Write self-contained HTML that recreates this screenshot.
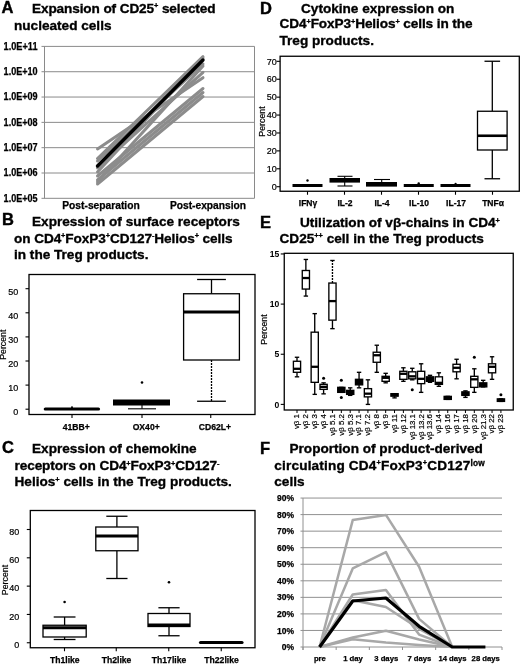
<!DOCTYPE html>
<html><head><meta charset="utf-8"><title>Figure</title>
<style>
html,body{margin:0;padding:0;background:#fff;}
svg{display:block;font-family:'Liberation Sans', sans-serif;}
</style></head>
<body>
<svg width="520" height="664" viewBox="0 0 520 664">
<rect width="520" height="664" fill="#fff"/>
<text x="1.50" y="12.50" font-size="16.5" font-weight="bold" text-anchor="start" fill="#000" stroke="#000" stroke-width="0.4">A</text>
<text x="32.00" y="12.60" font-size="13.6" font-weight="bold" text-anchor="start" fill="#000" stroke="#000" stroke-width="0.35" textLength="183.5">Expansion of CD25<tspan dy="-4.4" font-size="7.4" stroke-width="0.3">+</tspan><tspan dy="4.4"> selected</tspan></text>
<text x="14.00" y="29.50" font-size="13.6" font-weight="bold" text-anchor="start" fill="#000" stroke="#000" stroke-width="0.35">nucleated cells</text>
<line x1="41.50" y1="46.40" x2="254.50" y2="46.40" stroke="#8a8a8a" stroke-width="1" />
<text x="3.60" y="49.80" font-size="10" font-weight="bold" text-anchor="start" fill="#000" textLength="34" lengthAdjust="spacingAndGlyphs" stroke="#000" stroke-width="0.25">1.0E+11</text>
<line x1="41.50" y1="71.72" x2="254.50" y2="71.72" stroke="#8a8a8a" stroke-width="1" />
<text x="3.60" y="75.12" font-size="10" font-weight="bold" text-anchor="start" fill="#000" textLength="34" lengthAdjust="spacingAndGlyphs" stroke="#000" stroke-width="0.25">1.0E+10</text>
<line x1="41.50" y1="97.04" x2="254.50" y2="97.04" stroke="#8a8a8a" stroke-width="1" />
<text x="3.60" y="100.44" font-size="10" font-weight="bold" text-anchor="start" fill="#000" textLength="34" lengthAdjust="spacingAndGlyphs" stroke="#000" stroke-width="0.25">1.0E+09</text>
<line x1="41.50" y1="122.36" x2="254.50" y2="122.36" stroke="#8a8a8a" stroke-width="1" />
<text x="3.60" y="125.76" font-size="10" font-weight="bold" text-anchor="start" fill="#000" textLength="34" lengthAdjust="spacingAndGlyphs" stroke="#000" stroke-width="0.25">1.0E+08</text>
<line x1="41.50" y1="147.68" x2="254.50" y2="147.68" stroke="#8a8a8a" stroke-width="1" />
<text x="3.60" y="151.08" font-size="10" font-weight="bold" text-anchor="start" fill="#000" textLength="34" lengthAdjust="spacingAndGlyphs" stroke="#000" stroke-width="0.25">1.0E+07</text>
<line x1="41.50" y1="173.00" x2="254.50" y2="173.00" stroke="#8a8a8a" stroke-width="1" />
<text x="3.60" y="176.40" font-size="10" font-weight="bold" text-anchor="start" fill="#000" textLength="34" lengthAdjust="spacingAndGlyphs" stroke="#000" stroke-width="0.25">1.0E+06</text>
<line x1="41.50" y1="198.32" x2="254.50" y2="198.32" stroke="#8a8a8a" stroke-width="1" />
<text x="3.60" y="201.72" font-size="10" font-weight="bold" text-anchor="start" fill="#000" textLength="34" lengthAdjust="spacingAndGlyphs" stroke="#000" stroke-width="0.25">1.0E+05</text>
<line x1="44.50" y1="46.40" x2="44.50" y2="198.32" stroke="#8a8a8a" stroke-width="1" />
<line x1="254.50" y1="46.40" x2="254.50" y2="198.32" stroke="#8a8a8a" stroke-width="1" />
<line x1="97.50" y1="149.00" x2="203.00" y2="77.70" stroke="#8c8c8c" stroke-width="3" stroke-linecap="round"/>
<line x1="97.50" y1="158.50" x2="203.00" y2="56.70" stroke="#8c8c8c" stroke-width="3" stroke-linecap="round"/>
<line x1="97.50" y1="161.00" x2="203.00" y2="64.00" stroke="#8c8c8c" stroke-width="3" stroke-linecap="round"/>
<line x1="97.50" y1="168.00" x2="203.00" y2="72.30" stroke="#8c8c8c" stroke-width="3" stroke-linecap="round"/>
<line x1="97.50" y1="172.00" x2="203.00" y2="58.00" stroke="#8c8c8c" stroke-width="3" stroke-linecap="round"/>
<line x1="97.50" y1="176.00" x2="203.00" y2="88.50" stroke="#8c8c8c" stroke-width="3" stroke-linecap="round"/>
<line x1="97.50" y1="180.00" x2="203.00" y2="92.50" stroke="#8c8c8c" stroke-width="3" stroke-linecap="round"/>
<line x1="97.50" y1="182.00" x2="203.00" y2="66.00" stroke="#8c8c8c" stroke-width="3" stroke-linecap="round"/>
<line x1="97.50" y1="184.00" x2="203.00" y2="96.50" stroke="#8c8c8c" stroke-width="3" stroke-linecap="round"/>
<line x1="97.50" y1="166.00" x2="203.00" y2="60.00" stroke="#000" stroke-width="3.4" stroke-linecap="round"/>
<text x="101.00" y="208.50" font-size="10.3" font-weight="bold" text-anchor="middle" fill="#000" textLength="77.5" lengthAdjust="spacingAndGlyphs" stroke="#000" stroke-width="0.25">Post-separation</text>
<text x="208.00" y="208.50" font-size="10.3" font-weight="bold" text-anchor="middle" fill="#000" textLength="76" lengthAdjust="spacingAndGlyphs" stroke="#000" stroke-width="0.25">Post-expansion</text>
<text x="2.00" y="225.00" font-size="16.5" font-weight="bold" text-anchor="start" fill="#000" stroke="#000" stroke-width="0.4">B</text>
<text x="32.00" y="225.50" font-size="13.6" font-weight="bold" text-anchor="start" fill="#000" stroke="#000" stroke-width="0.35">Expression of surface receptors</text>
<text x="14.00" y="242.70" font-size="13.6" font-weight="bold" text-anchor="start" fill="#000" stroke="#000" stroke-width="0.35" textLength="218.5">on CD4<tspan dy="-4.4" font-size="7.4" stroke-width="0.3">+</tspan><tspan dy="4.4">FoxP3</tspan><tspan dy="-4.4" font-size="7.4" stroke-width="0.3">+</tspan><tspan dy="4.4">CD127</tspan><tspan dy="-4.4" font-size="7.4" stroke-width="0.3">-</tspan><tspan dy="4.4">Helios</tspan><tspan dy="-4.4" font-size="7.4" stroke-width="0.3">+</tspan><tspan dy="4.4"> cells</tspan></text>
<text x="14.00" y="258.80" font-size="13.6" font-weight="bold" text-anchor="start" fill="#000" stroke="#000" stroke-width="0.35">in the Treg products.</text>
<rect x="29" y="274.5" width="226" height="140.0" fill="none" stroke="#000" stroke-width="1.3"/>
<line x1="25.50" y1="409.20" x2="29.00" y2="409.20" stroke="#000" stroke-width="1.1" />
<text x="18.30" y="415.00" font-size="9" font-weight="normal" text-anchor="end" fill="#000" stroke="#000" stroke-width="0.2">0</text>
<line x1="25.50" y1="385.10" x2="29.00" y2="385.10" stroke="#000" stroke-width="1.1" />
<text x="18.30" y="390.90" font-size="9" font-weight="normal" text-anchor="end" fill="#000" stroke="#000" stroke-width="0.2">10</text>
<line x1="25.50" y1="361.00" x2="29.00" y2="361.00" stroke="#000" stroke-width="1.1" />
<text x="18.30" y="366.80" font-size="9" font-weight="normal" text-anchor="end" fill="#000" stroke="#000" stroke-width="0.2">20</text>
<line x1="25.50" y1="336.90" x2="29.00" y2="336.90" stroke="#000" stroke-width="1.1" />
<text x="18.30" y="342.70" font-size="9" font-weight="normal" text-anchor="end" fill="#000" stroke="#000" stroke-width="0.2">30</text>
<line x1="25.50" y1="312.80" x2="29.00" y2="312.80" stroke="#000" stroke-width="1.1" />
<text x="18.30" y="318.60" font-size="9" font-weight="normal" text-anchor="end" fill="#000" stroke="#000" stroke-width="0.2">40</text>
<line x1="25.50" y1="288.70" x2="29.00" y2="288.70" stroke="#000" stroke-width="1.1" />
<text x="18.30" y="294.50" font-size="9" font-weight="normal" text-anchor="end" fill="#000" stroke="#000" stroke-width="0.2">50</text>
<text x="0.00" y="0.00" font-size="8.8" font-weight="normal" text-anchor="middle" fill="#000" transform="translate(6,344.7) rotate(-90)" stroke="#000" stroke-width="0.2">Percent</text>
<line x1="72.00" y1="414.50" x2="72.00" y2="418.00" stroke="#000" stroke-width="1.1" />
<text x="76.20" y="430.20" font-size="8.6" font-weight="bold" text-anchor="middle" fill="#000" stroke="#000" stroke-width="0.25">41BB+</text>
<line x1="142.00" y1="414.50" x2="142.00" y2="418.00" stroke="#000" stroke-width="1.1" />
<text x="146.20" y="430.20" font-size="8.6" font-weight="bold" text-anchor="middle" fill="#000" stroke="#000" stroke-width="0.25">OX40+</text>
<line x1="210.75" y1="414.50" x2="210.75" y2="418.00" stroke="#000" stroke-width="1.1" />
<text x="214.95" y="430.20" font-size="8.6" font-weight="bold" text-anchor="middle" fill="#000" stroke="#000" stroke-width="0.25">CD62L+</text>
<line x1="45.30" y1="409.00" x2="98.50" y2="409.00" stroke="#000" stroke-width="3.2" stroke-linecap="round"/>
<circle cx="72" cy="407.3" r="1" fill="#000"/>
<rect x="113" y="399.5" width="57" height="6" fill="#000"/>
<line x1="142.00" y1="405.00" x2="142.00" y2="408.80" stroke="#000" stroke-width="1.1" />
<line x1="128.00" y1="408.80" x2="156.00" y2="408.80" stroke="#000" stroke-width="1.1" />
<circle cx="142" cy="382.5" r="1.3" fill="#000"/>
<line x1="211.50" y1="293.75" x2="211.50" y2="279.50" stroke="#000" stroke-width="1.3" />
<line x1="211.50" y1="360.00" x2="211.50" y2="401.25" stroke="#000" stroke-width="1.3" stroke-dasharray="2 1"/>
<line x1="197.10" y1="279.50" x2="225.90" y2="279.50" stroke="#000" stroke-width="1.3" />
<line x1="197.10" y1="401.25" x2="225.90" y2="401.25" stroke="#000" stroke-width="1.3" />
<rect x="183.60" y="293.75" width="55.80" height="66.25" fill="#fff" stroke="#000" stroke-width="1.3"/>
<line x1="183.60" y1="312.00" x2="239.40" y2="312.00" stroke="#000" stroke-width="2.8" />
<text x="2.00" y="453.00" font-size="16.5" font-weight="bold" text-anchor="start" fill="#000" stroke="#000" stroke-width="0.4">C</text>
<text x="32.00" y="453.30" font-size="13.6" font-weight="bold" text-anchor="start" fill="#000" stroke="#000" stroke-width="0.35">Expression of chemokine</text>
<text x="14.50" y="470.00" font-size="13.6" font-weight="bold" text-anchor="start" fill="#000" stroke="#000" stroke-width="0.35" textLength="205">receptors on CD4<tspan dy="-4.4" font-size="7.4" stroke-width="0.3">+</tspan><tspan dy="4.4">FoxP3</tspan><tspan dy="-4.4" font-size="7.4" stroke-width="0.3">+</tspan><tspan dy="4.4">CD127</tspan><tspan dy="-4.4" font-size="7.4" stroke-width="0.3">-</tspan></text>
<text x="14.50" y="486.30" font-size="13.6" font-weight="bold" text-anchor="start" fill="#000" stroke="#000" stroke-width="0.35">Helios<tspan dy="-4.4" font-size="7.4" stroke-width="0.3">+</tspan><tspan dy="4.4"> cells in the Treg products.</tspan></text>
<rect x="30.3" y="510.5" width="224.7" height="137.25" fill="none" stroke="#000" stroke-width="1.3"/>
<line x1="26.80" y1="642.75" x2="30.30" y2="642.75" stroke="#000" stroke-width="1.1" />
<text x="19.30" y="648.05" font-size="9" font-weight="normal" text-anchor="end" fill="#000" stroke="#000" stroke-width="0.2">0</text>
<line x1="26.80" y1="614.44" x2="30.30" y2="614.44" stroke="#000" stroke-width="1.1" />
<text x="19.30" y="619.74" font-size="9" font-weight="normal" text-anchor="end" fill="#000" stroke="#000" stroke-width="0.2">20</text>
<line x1="26.80" y1="586.13" x2="30.30" y2="586.13" stroke="#000" stroke-width="1.1" />
<text x="19.30" y="591.43" font-size="9" font-weight="normal" text-anchor="end" fill="#000" stroke="#000" stroke-width="0.2">40</text>
<line x1="26.80" y1="557.81" x2="30.30" y2="557.81" stroke="#000" stroke-width="1.1" />
<text x="19.30" y="563.11" font-size="9" font-weight="normal" text-anchor="end" fill="#000" stroke="#000" stroke-width="0.2">60</text>
<line x1="26.80" y1="529.50" x2="30.30" y2="529.50" stroke="#000" stroke-width="1.1" />
<text x="19.30" y="534.80" font-size="9" font-weight="normal" text-anchor="end" fill="#000" stroke="#000" stroke-width="0.2">80</text>
<text x="0.00" y="0.00" font-size="8.8" font-weight="normal" text-anchor="middle" fill="#000" transform="translate(7.8,580) rotate(-90)" stroke="#000" stroke-width="0.2">Percent</text>
<line x1="64.50" y1="647.75" x2="64.50" y2="651.25" stroke="#000" stroke-width="1.1" />
<text x="64.80" y="662.80" font-size="8.6" font-weight="bold" text-anchor="middle" fill="#000" stroke="#000" stroke-width="0.25">Th1like</text>
<line x1="116.25" y1="647.75" x2="116.25" y2="651.25" stroke="#000" stroke-width="1.1" />
<text x="116.55" y="662.80" font-size="8.6" font-weight="bold" text-anchor="middle" fill="#000" stroke="#000" stroke-width="0.25">Th2like</text>
<line x1="168.75" y1="647.75" x2="168.75" y2="651.25" stroke="#000" stroke-width="1.1" />
<text x="169.05" y="662.80" font-size="8.6" font-weight="bold" text-anchor="middle" fill="#000" stroke="#000" stroke-width="0.25">Th17like</text>
<line x1="221.25" y1="647.75" x2="221.25" y2="651.25" stroke="#000" stroke-width="1.1" />
<text x="221.55" y="662.80" font-size="8.6" font-weight="bold" text-anchor="middle" fill="#000" stroke="#000" stroke-width="0.25">Th22like</text>
<line x1="64.60" y1="625.25" x2="64.60" y2="617.00" stroke="#000" stroke-width="1.3" />
<line x1="64.60" y1="637.00" x2="64.60" y2="639.50" stroke="#000" stroke-width="1.3" />
<line x1="53.70" y1="617.00" x2="75.50" y2="617.00" stroke="#000" stroke-width="1.3" />
<line x1="53.70" y1="639.50" x2="75.50" y2="639.50" stroke="#000" stroke-width="1.3" />
<rect x="43.00" y="625.25" width="43.20" height="11.75" fill="#fff" stroke="#000" stroke-width="1.3"/>
<line x1="43.00" y1="627.75" x2="86.20" y2="627.75" stroke="#000" stroke-width="2.8" />
<circle cx="64.60" cy="602.00" r="1.3" fill="#000"/>
<line x1="116.90" y1="527.00" x2="116.90" y2="516.25" stroke="#000" stroke-width="1.3" />
<line x1="116.90" y1="550.75" x2="116.90" y2="578.50" stroke="#000" stroke-width="1.3" />
<line x1="106.30" y1="516.25" x2="127.50" y2="516.25" stroke="#000" stroke-width="1.3" />
<line x1="106.30" y1="578.50" x2="127.50" y2="578.50" stroke="#000" stroke-width="1.3" />
<rect x="95.80" y="527.00" width="42.20" height="23.75" fill="#fff" stroke="#000" stroke-width="1.3"/>
<line x1="95.80" y1="536.00" x2="138.00" y2="536.00" stroke="#000" stroke-width="2.8" />
<line x1="169.00" y1="613.50" x2="169.00" y2="607.75" stroke="#000" stroke-width="1.3" />
<line x1="169.00" y1="626.50" x2="169.00" y2="635.75" stroke="#000" stroke-width="1.3" />
<line x1="158.40" y1="607.75" x2="179.60" y2="607.75" stroke="#000" stroke-width="1.3" />
<line x1="158.40" y1="635.75" x2="179.60" y2="635.75" stroke="#000" stroke-width="1.3" />
<rect x="148.00" y="613.50" width="42.00" height="13.00" fill="#fff" stroke="#000" stroke-width="1.3"/>
<line x1="148.00" y1="624.90" x2="190.00" y2="624.90" stroke="#000" stroke-width="2.8" />
<circle cx="169.00" cy="582.25" r="1.3" fill="#000"/>
<line x1="200.50" y1="642.50" x2="242.00" y2="642.50" stroke="#000" stroke-width="3.2" stroke-linecap="round"/>
<text x="260.00" y="13.50" font-size="16.5" font-weight="bold" text-anchor="start" fill="#000" stroke="#000" stroke-width="0.4">D</text>
<text x="301.00" y="13.00" font-size="13.6" font-weight="bold" text-anchor="start" fill="#000" stroke="#000" stroke-width="0.35">Cytokine expression on</text>
<text x="279.50" y="28.40" font-size="13.6" font-weight="bold" text-anchor="start" fill="#000" stroke="#000" stroke-width="0.35" textLength="193">CD4<tspan dy="-4.4" font-size="7.4" stroke-width="0.3">+</tspan><tspan dy="4.4">FoxP3</tspan><tspan dy="-4.4" font-size="7.4" stroke-width="0.3">+</tspan><tspan dy="4.4">Helios</tspan><tspan dy="-4.4" font-size="7.4" stroke-width="0.3">+</tspan><tspan dy="4.4"> cells in the</tspan></text>
<text x="279.50" y="45.40" font-size="13.6" font-weight="bold" text-anchor="start" fill="#000" stroke="#000" stroke-width="0.35">Treg products.</text>
<rect x="280.1" y="56.25" width="239.19999999999993" height="135.0" fill="none" stroke="#000" stroke-width="1.3"/>
<line x1="276.60" y1="186.70" x2="280.10" y2="186.70" stroke="#000" stroke-width="1.1" />
<text x="276.80" y="189.90" font-size="9" font-weight="normal" text-anchor="end" fill="#000" stroke="#000" stroke-width="0.2">0</text>
<line x1="276.60" y1="168.79" x2="280.10" y2="168.79" stroke="#000" stroke-width="1.1" />
<text x="276.80" y="171.99" font-size="9" font-weight="normal" text-anchor="end" fill="#000" stroke="#000" stroke-width="0.2">10</text>
<line x1="276.60" y1="150.88" x2="280.10" y2="150.88" stroke="#000" stroke-width="1.1" />
<text x="276.80" y="154.08" font-size="9" font-weight="normal" text-anchor="end" fill="#000" stroke="#000" stroke-width="0.2">20</text>
<line x1="276.60" y1="132.97" x2="280.10" y2="132.97" stroke="#000" stroke-width="1.1" />
<text x="276.80" y="136.17" font-size="9" font-weight="normal" text-anchor="end" fill="#000" stroke="#000" stroke-width="0.2">30</text>
<line x1="276.60" y1="115.06" x2="280.10" y2="115.06" stroke="#000" stroke-width="1.1" />
<text x="276.80" y="118.26" font-size="9" font-weight="normal" text-anchor="end" fill="#000" stroke="#000" stroke-width="0.2">40</text>
<line x1="276.60" y1="97.15" x2="280.10" y2="97.15" stroke="#000" stroke-width="1.1" />
<text x="276.80" y="100.35" font-size="9" font-weight="normal" text-anchor="end" fill="#000" stroke="#000" stroke-width="0.2">50</text>
<line x1="276.60" y1="79.24" x2="280.10" y2="79.24" stroke="#000" stroke-width="1.1" />
<text x="276.80" y="82.44" font-size="9" font-weight="normal" text-anchor="end" fill="#000" stroke="#000" stroke-width="0.2">60</text>
<line x1="276.60" y1="61.33" x2="280.10" y2="61.33" stroke="#000" stroke-width="1.1" />
<text x="276.80" y="64.53" font-size="9" font-weight="normal" text-anchor="end" fill="#000" stroke="#000" stroke-width="0.2">70</text>
<text x="0.00" y="0.00" font-size="8.8" font-weight="normal" text-anchor="middle" fill="#000" transform="translate(264.6,121.5) rotate(-90)" stroke="#000" stroke-width="0.2">Percent</text>
<line x1="307.50" y1="191.25" x2="307.50" y2="194.75" stroke="#000" stroke-width="1.1" />
<text x="308.00" y="205.80" font-size="8.5" font-weight="bold" text-anchor="middle" fill="#000" stroke="#000" stroke-width="0.25">IFNγ</text>
<line x1="344.50" y1="191.25" x2="344.50" y2="194.75" stroke="#000" stroke-width="1.1" />
<text x="345.00" y="205.80" font-size="8.5" font-weight="bold" text-anchor="middle" fill="#000" stroke="#000" stroke-width="0.25">IL-2</text>
<line x1="381.50" y1="191.25" x2="381.50" y2="194.75" stroke="#000" stroke-width="1.1" />
<text x="382.00" y="205.80" font-size="8.5" font-weight="bold" text-anchor="middle" fill="#000" stroke="#000" stroke-width="0.25">IL-4</text>
<line x1="418.50" y1="191.25" x2="418.50" y2="194.75" stroke="#000" stroke-width="1.1" />
<text x="419.00" y="205.80" font-size="8.5" font-weight="bold" text-anchor="middle" fill="#000" stroke="#000" stroke-width="0.25">IL-10</text>
<line x1="455.50" y1="191.25" x2="455.50" y2="194.75" stroke="#000" stroke-width="1.1" />
<text x="456.00" y="205.80" font-size="8.5" font-weight="bold" text-anchor="middle" fill="#000" stroke="#000" stroke-width="0.25">IL-17</text>
<line x1="492.50" y1="191.25" x2="492.50" y2="194.75" stroke="#000" stroke-width="1.1" />
<text x="493.00" y="205.80" font-size="8.5" font-weight="bold" text-anchor="middle" fill="#000" stroke="#000" stroke-width="0.25">TNFα</text>
<line x1="292.50" y1="185.50" x2="322.50" y2="185.50" stroke="#000" stroke-width="3" />
<circle cx="307.5" cy="180.5" r="1.2" fill="#000"/>
<line x1="344.70" y1="176.30" x2="344.70" y2="186.00" stroke="#000" stroke-width="1.1" />
<line x1="337.50" y1="176.30" x2="352.50" y2="176.30" stroke="#000" stroke-width="1.1" />
<line x1="337.50" y1="186.00" x2="352.50" y2="186.00" stroke="#000" stroke-width="1.1" />
<rect x="329.5" y="178" width="30.5" height="4.6" fill="#000"/>
<line x1="381.70" y1="179.50" x2="381.70" y2="186.00" stroke="#000" stroke-width="1.1" />
<line x1="374.00" y1="179.50" x2="390.00" y2="179.50" stroke="#000" stroke-width="1.1" />
<rect x="366" y="182" width="31" height="4.6" fill="#000"/>
<line x1="403.75" y1="185.50" x2="433.75" y2="185.50" stroke="#000" stroke-width="3" />
<circle cx="418.7" cy="183.4" r="1.2" fill="#000"/>
<line x1="440.50" y1="185.50" x2="470.50" y2="185.50" stroke="#000" stroke-width="3" />
<circle cx="455.6" cy="183.8" r="1.1" fill="#000"/>
<line x1="492.30" y1="111.25" x2="492.30" y2="61.25" stroke="#000" stroke-width="1.3" />
<line x1="492.30" y1="150.00" x2="492.30" y2="178.75" stroke="#000" stroke-width="1.3" />
<line x1="484.50" y1="61.25" x2="500.10" y2="61.25" stroke="#000" stroke-width="1.3" />
<line x1="484.50" y1="178.75" x2="500.10" y2="178.75" stroke="#000" stroke-width="1.3" />
<rect x="477.50" y="111.25" width="29.60" height="38.75" fill="#fff" stroke="#000" stroke-width="1.3"/>
<line x1="477.50" y1="135.75" x2="507.10" y2="135.75" stroke="#000" stroke-width="2.6" />
<text x="260.00" y="227.50" font-size="16.5" font-weight="bold" text-anchor="start" fill="#000" stroke="#000" stroke-width="0.4">E</text>
<text x="300.00" y="227.00" font-size="13.6" font-weight="bold" text-anchor="start" fill="#000" stroke="#000" stroke-width="0.35">Utilization of vβ-chains in CD4<tspan dy="-4.4" font-size="7.4" stroke-width="0.3">+</tspan></text>
<text x="279.50" y="242.60" font-size="13.6" font-weight="bold" text-anchor="start" fill="#000" stroke="#000" stroke-width="0.35">CD25<tspan dy="-4.4" font-size="7.4" stroke-width="0.3">++</tspan><tspan dy="4.4"> cell in the Treg products</tspan></text>
<rect x="284.25" y="253.3" width="229.0" height="156.7" fill="none" stroke="#000" stroke-width="1.3"/>
<line x1="280.75" y1="404.40" x2="284.25" y2="404.40" stroke="#000" stroke-width="1.1" />
<text x="279.30" y="407.60" font-size="8.6" font-weight="bold" text-anchor="end" fill="#000" >0</text>
<line x1="280.75" y1="354.25" x2="284.25" y2="354.25" stroke="#000" stroke-width="1.1" />
<text x="279.30" y="357.45" font-size="8.6" font-weight="bold" text-anchor="end" fill="#000" >5</text>
<line x1="280.75" y1="304.10" x2="284.25" y2="304.10" stroke="#000" stroke-width="1.1" />
<text x="279.30" y="307.30" font-size="8.6" font-weight="bold" text-anchor="end" fill="#000" >10</text>
<line x1="280.75" y1="253.95" x2="284.25" y2="253.95" stroke="#000" stroke-width="1.1" />
<text x="279.30" y="257.15" font-size="8.6" font-weight="bold" text-anchor="end" fill="#000" >15</text>
<text x="0.00" y="0.00" font-size="8.8" font-weight="normal" text-anchor="middle" fill="#000" transform="translate(267,329.5) rotate(-90)" stroke="#000" stroke-width="0.2">Percent</text>
<line x1="297.00" y1="410.00" x2="297.00" y2="413.00" stroke="#000" stroke-width="1" />
<text x="0.00" y="0.00" font-size="7.9" font-weight="normal" text-anchor="end" fill="#000" transform="translate(299.40,414) rotate(-90)" stroke="#000" stroke-width="0.2">vβ 1</text>
<line x1="297.00" y1="361.27" x2="297.00" y2="357.26" stroke="#000" stroke-width="1.35" />
<line x1="297.00" y1="372.30" x2="297.00" y2="376.82" stroke="#000" stroke-width="1.35" />
<line x1="294.80" y1="357.26" x2="299.20" y2="357.26" stroke="#000" stroke-width="1.35" />
<line x1="294.80" y1="376.82" x2="299.20" y2="376.82" stroke="#000" stroke-width="1.35" />
<rect x="293.40" y="361.27" width="7.20" height="11.03" fill="#fff" stroke="#000" stroke-width="1.35"/>
<line x1="293.40" y1="368.79" x2="300.60" y2="368.79" stroke="#000" stroke-width="2.3" />
<line x1="305.87" y1="410.00" x2="305.87" y2="413.00" stroke="#000" stroke-width="1" />
<text x="0.00" y="0.00" font-size="7.9" font-weight="normal" text-anchor="end" fill="#000" transform="translate(308.27,414) rotate(-90)" stroke="#000" stroke-width="0.2">vβ 2</text>
<line x1="305.87" y1="270.50" x2="305.87" y2="259.47" stroke="#000" stroke-width="1.35" />
<line x1="305.87" y1="289.05" x2="305.87" y2="296.08" stroke="#000" stroke-width="1.35" />
<line x1="303.67" y1="259.47" x2="308.07" y2="259.47" stroke="#000" stroke-width="1.35" />
<line x1="303.67" y1="296.08" x2="308.07" y2="296.08" stroke="#000" stroke-width="1.35" />
<rect x="302.27" y="270.50" width="7.20" height="18.56" fill="#fff" stroke="#000" stroke-width="1.35"/>
<line x1="302.27" y1="278.02" x2="309.47" y2="278.02" stroke="#000" stroke-width="2.3" />
<line x1="314.73" y1="410.00" x2="314.73" y2="413.00" stroke="#000" stroke-width="1" />
<text x="0.00" y="0.00" font-size="7.9" font-weight="normal" text-anchor="end" fill="#000" transform="translate(317.13,414) rotate(-90)" stroke="#000" stroke-width="0.2">vβ 3</text>
<line x1="314.73" y1="332.18" x2="314.73" y2="313.63" stroke="#000" stroke-width="1.35" />
<line x1="314.73" y1="382.33" x2="314.73" y2="394.37" stroke="#000" stroke-width="1.35" />
<line x1="312.53" y1="313.63" x2="316.93" y2="313.63" stroke="#000" stroke-width="1.35" />
<line x1="312.53" y1="394.37" x2="316.93" y2="394.37" stroke="#000" stroke-width="1.35" />
<rect x="311.13" y="332.18" width="7.20" height="50.15" fill="#fff" stroke="#000" stroke-width="1.35"/>
<line x1="311.13" y1="366.79" x2="318.33" y2="366.79" stroke="#000" stroke-width="2.3" />
<line x1="323.60" y1="410.00" x2="323.60" y2="413.00" stroke="#000" stroke-width="1" />
<text x="0.00" y="0.00" font-size="7.9" font-weight="normal" text-anchor="end" fill="#000" transform="translate(326.00,414) rotate(-90)" stroke="#000" stroke-width="0.2">vβ 4</text>
<line x1="323.60" y1="384.34" x2="323.60" y2="382.84" stroke="#000" stroke-width="1.35" />
<line x1="323.60" y1="389.35" x2="323.60" y2="393.87" stroke="#000" stroke-width="1.35" />
<line x1="321.40" y1="382.84" x2="325.80" y2="382.84" stroke="#000" stroke-width="1.35" />
<line x1="321.40" y1="393.87" x2="325.80" y2="393.87" stroke="#000" stroke-width="1.35" />
<rect x="320.00" y="384.34" width="7.20" height="5.01" fill="#fff" stroke="#000" stroke-width="1.35"/>
<line x1="320.00" y1="386.85" x2="327.20" y2="386.85" stroke="#000" stroke-width="2.3" />
<circle cx="323.60" cy="378.32" r="1.5" fill="#000"/>
<line x1="332.46" y1="410.00" x2="332.46" y2="413.00" stroke="#000" stroke-width="1" />
<text x="0.00" y="0.00" font-size="7.9" font-weight="normal" text-anchor="end" fill="#000" transform="translate(334.86,414) rotate(-90)" stroke="#000" stroke-width="0.2">vβ 5.1</text>
<line x1="332.46" y1="283.04" x2="332.46" y2="260.47" stroke="#000" stroke-width="1.35" stroke-dasharray="2 1"/>
<line x1="332.46" y1="320.15" x2="332.46" y2="328.67" stroke="#000" stroke-width="1.35" />
<line x1="330.26" y1="260.47" x2="334.66" y2="260.47" stroke="#000" stroke-width="1.35" />
<line x1="330.26" y1="328.67" x2="334.66" y2="328.67" stroke="#000" stroke-width="1.35" />
<rect x="328.86" y="283.04" width="7.20" height="37.11" fill="#fff" stroke="#000" stroke-width="1.35"/>
<line x1="328.86" y1="301.09" x2="336.06" y2="301.09" stroke="#000" stroke-width="2.3" />
<line x1="341.33" y1="410.00" x2="341.33" y2="413.00" stroke="#000" stroke-width="1" />
<text x="0.00" y="0.00" font-size="7.9" font-weight="normal" text-anchor="end" fill="#000" transform="translate(343.73,414) rotate(-90)" stroke="#000" stroke-width="0.2">vβ 5.2</text>
<line x1="341.33" y1="387.35" x2="341.33" y2="387.35" stroke="#000" stroke-width="1.35" />
<line x1="341.33" y1="392.36" x2="341.33" y2="392.36" stroke="#000" stroke-width="1.35" />
<line x1="339.13" y1="387.35" x2="343.53" y2="387.35" stroke="#000" stroke-width="1.35" />
<line x1="339.13" y1="392.36" x2="343.53" y2="392.36" stroke="#000" stroke-width="1.35" />
<rect x="337.73" y="387.35" width="7.20" height="5.01" fill="#000" stroke="#000" stroke-width="1.35"/>
<line x1="337.73" y1="389.86" x2="344.93" y2="389.86" stroke="#000" stroke-width="2.3" />
<circle cx="341.33" cy="380.33" r="1.5" fill="#000"/>
<circle cx="341.33" cy="397.38" r="1.5" fill="#000"/>
<line x1="350.20" y1="410.00" x2="350.20" y2="413.00" stroke="#000" stroke-width="1" />
<text x="0.00" y="0.00" font-size="7.9" font-weight="normal" text-anchor="end" fill="#000" transform="translate(352.60,414) rotate(-90)" stroke="#000" stroke-width="0.2">vβ 5.3</text>
<line x1="350.20" y1="390.36" x2="350.20" y2="387.85" stroke="#000" stroke-width="1.35" />
<line x1="350.20" y1="394.37" x2="350.20" y2="395.37" stroke="#000" stroke-width="1.35" />
<line x1="348.00" y1="387.85" x2="352.40" y2="387.85" stroke="#000" stroke-width="1.35" />
<line x1="348.00" y1="395.37" x2="352.40" y2="395.37" stroke="#000" stroke-width="1.35" />
<rect x="346.60" y="390.36" width="7.20" height="4.01" fill="#000" stroke="#000" stroke-width="1.35"/>
<line x1="346.60" y1="392.36" x2="353.80" y2="392.36" stroke="#000" stroke-width="2.3" />
<line x1="359.06" y1="410.00" x2="359.06" y2="413.00" stroke="#000" stroke-width="1" />
<text x="0.00" y="0.00" font-size="7.9" font-weight="normal" text-anchor="end" fill="#000" transform="translate(361.46,414) rotate(-90)" stroke="#000" stroke-width="0.2">vβ 7.1</text>
<line x1="359.06" y1="379.32" x2="359.06" y2="372.30" stroke="#000" stroke-width="1.35" />
<line x1="359.06" y1="384.84" x2="359.06" y2="387.85" stroke="#000" stroke-width="1.35" />
<line x1="356.86" y1="372.30" x2="361.26" y2="372.30" stroke="#000" stroke-width="1.35" />
<line x1="356.86" y1="387.85" x2="361.26" y2="387.85" stroke="#000" stroke-width="1.35" />
<rect x="355.46" y="379.32" width="7.20" height="5.52" fill="#000" stroke="#000" stroke-width="1.35"/>
<line x1="355.46" y1="381.83" x2="362.66" y2="381.83" stroke="#000" stroke-width="2.3" />
<line x1="367.93" y1="410.00" x2="367.93" y2="413.00" stroke="#000" stroke-width="1" />
<text x="0.00" y="0.00" font-size="7.9" font-weight="normal" text-anchor="end" fill="#000" transform="translate(370.33,414) rotate(-90)" stroke="#000" stroke-width="0.2">vβ 7.2</text>
<line x1="367.93" y1="388.65" x2="367.93" y2="379.83" stroke="#000" stroke-width="1.35" />
<line x1="367.93" y1="396.88" x2="367.93" y2="404.40" stroke="#000" stroke-width="1.35" />
<line x1="365.73" y1="379.83" x2="370.13" y2="379.83" stroke="#000" stroke-width="1.35" />
<line x1="365.73" y1="404.40" x2="370.13" y2="404.40" stroke="#000" stroke-width="1.35" />
<rect x="364.33" y="388.65" width="7.20" height="8.22" fill="#fff" stroke="#000" stroke-width="1.35"/>
<line x1="364.33" y1="393.67" x2="371.53" y2="393.67" stroke="#000" stroke-width="2.3" />
<line x1="376.79" y1="410.00" x2="376.79" y2="413.00" stroke="#000" stroke-width="1" />
<text x="0.00" y="0.00" font-size="7.9" font-weight="normal" text-anchor="end" fill="#000" transform="translate(379.19,414) rotate(-90)" stroke="#000" stroke-width="0.2">vβ 8</text>
<line x1="376.79" y1="352.24" x2="376.79" y2="345.22" stroke="#000" stroke-width="1.35" />
<line x1="376.79" y1="362.27" x2="376.79" y2="372.30" stroke="#000" stroke-width="1.35" />
<line x1="374.59" y1="345.22" x2="378.99" y2="345.22" stroke="#000" stroke-width="1.35" />
<line x1="374.59" y1="372.30" x2="378.99" y2="372.30" stroke="#000" stroke-width="1.35" />
<rect x="373.19" y="352.24" width="7.20" height="10.03" fill="#fff" stroke="#000" stroke-width="1.35"/>
<line x1="373.19" y1="355.25" x2="380.39" y2="355.25" stroke="#000" stroke-width="2.3" />
<line x1="385.66" y1="410.00" x2="385.66" y2="413.00" stroke="#000" stroke-width="1" />
<text x="0.00" y="0.00" font-size="7.9" font-weight="normal" text-anchor="end" fill="#000" transform="translate(388.06,414) rotate(-90)" stroke="#000" stroke-width="0.2">vβ 9</text>
<line x1="385.66" y1="376.32" x2="385.66" y2="373.31" stroke="#000" stroke-width="1.35" />
<line x1="385.66" y1="381.33" x2="385.66" y2="382.84" stroke="#000" stroke-width="1.35" />
<line x1="383.46" y1="373.31" x2="387.86" y2="373.31" stroke="#000" stroke-width="1.35" />
<line x1="383.46" y1="382.84" x2="387.86" y2="382.84" stroke="#000" stroke-width="1.35" />
<rect x="382.06" y="376.32" width="7.20" height="5.01" fill="#fff" stroke="#000" stroke-width="1.35"/>
<line x1="382.06" y1="377.82" x2="389.26" y2="377.82" stroke="#000" stroke-width="2.3" />
<line x1="394.53" y1="410.00" x2="394.53" y2="413.00" stroke="#000" stroke-width="1" />
<text x="0.00" y="0.00" font-size="7.9" font-weight="normal" text-anchor="end" fill="#000" transform="translate(396.93,414) rotate(-90)" stroke="#000" stroke-width="0.2">vβ 11</text>
<line x1="394.53" y1="393.67" x2="394.53" y2="393.67" stroke="#000" stroke-width="1.35" />
<line x1="394.53" y1="396.18" x2="394.53" y2="397.88" stroke="#000" stroke-width="1.35" />
<line x1="392.33" y1="393.67" x2="396.73" y2="393.67" stroke="#000" stroke-width="1.35" />
<line x1="392.33" y1="397.88" x2="396.73" y2="397.88" stroke="#000" stroke-width="1.35" />
<rect x="390.93" y="393.67" width="7.20" height="2.51" fill="#000" stroke="#000" stroke-width="1.35"/>
<line x1="390.93" y1="394.87" x2="398.13" y2="394.87" stroke="#000" stroke-width="2.3" />
<line x1="403.39" y1="410.00" x2="403.39" y2="413.00" stroke="#000" stroke-width="1" />
<text x="0.00" y="0.00" font-size="7.9" font-weight="normal" text-anchor="end" fill="#000" transform="translate(405.79,414) rotate(-90)" stroke="#000" stroke-width="0.2">vβ 12</text>
<line x1="403.39" y1="371.30" x2="403.39" y2="367.79" stroke="#000" stroke-width="1.35" />
<line x1="403.39" y1="379.32" x2="403.39" y2="381.33" stroke="#000" stroke-width="1.35" />
<line x1="401.19" y1="367.79" x2="405.59" y2="367.79" stroke="#000" stroke-width="1.35" />
<line x1="401.19" y1="381.33" x2="405.59" y2="381.33" stroke="#000" stroke-width="1.35" />
<rect x="399.79" y="371.30" width="7.20" height="8.02" fill="#fff" stroke="#000" stroke-width="1.35"/>
<line x1="399.79" y1="373.81" x2="406.99" y2="373.81" stroke="#000" stroke-width="2.3" />
<line x1="412.26" y1="410.00" x2="412.26" y2="413.00" stroke="#000" stroke-width="1" />
<text x="0.00" y="0.00" font-size="7.9" font-weight="normal" text-anchor="end" fill="#000" transform="translate(414.66,414) rotate(-90)" stroke="#000" stroke-width="0.2">vβ 13.1</text>
<line x1="412.26" y1="371.80" x2="412.26" y2="368.29" stroke="#000" stroke-width="1.35" />
<line x1="412.26" y1="378.82" x2="412.26" y2="379.83" stroke="#000" stroke-width="1.35" />
<line x1="410.06" y1="368.29" x2="414.46" y2="368.29" stroke="#000" stroke-width="1.35" />
<line x1="410.06" y1="379.83" x2="414.46" y2="379.83" stroke="#000" stroke-width="1.35" />
<rect x="408.66" y="371.80" width="7.20" height="7.02" fill="#fff" stroke="#000" stroke-width="1.35"/>
<line x1="408.66" y1="376.32" x2="415.86" y2="376.32" stroke="#000" stroke-width="2.3" />
<circle cx="412.26" cy="389.86" r="1.5" fill="#000"/>
<line x1="421.12" y1="410.00" x2="421.12" y2="413.00" stroke="#000" stroke-width="1" />
<text x="0.00" y="0.00" font-size="7.9" font-weight="normal" text-anchor="end" fill="#000" transform="translate(423.52,414) rotate(-90)" stroke="#000" stroke-width="0.2">vβ 13.2</text>
<line x1="421.12" y1="371.30" x2="421.12" y2="363.78" stroke="#000" stroke-width="1.35" />
<line x1="421.12" y1="383.64" x2="421.12" y2="392.36" stroke="#000" stroke-width="1.35" />
<line x1="418.92" y1="363.78" x2="423.32" y2="363.78" stroke="#000" stroke-width="1.35" />
<line x1="418.92" y1="392.36" x2="423.32" y2="392.36" stroke="#000" stroke-width="1.35" />
<rect x="417.52" y="371.30" width="7.20" height="12.34" fill="#fff" stroke="#000" stroke-width="1.35"/>
<line x1="417.52" y1="378.82" x2="424.72" y2="378.82" stroke="#000" stroke-width="2.3" />
<line x1="429.99" y1="410.00" x2="429.99" y2="413.00" stroke="#000" stroke-width="1" />
<text x="0.00" y="0.00" font-size="7.9" font-weight="normal" text-anchor="end" fill="#000" transform="translate(432.39,414) rotate(-90)" stroke="#000" stroke-width="0.2">vβ 13.6</text>
<line x1="429.99" y1="376.82" x2="429.99" y2="375.31" stroke="#000" stroke-width="1.35" />
<line x1="429.99" y1="381.33" x2="429.99" y2="382.33" stroke="#000" stroke-width="1.35" />
<line x1="427.79" y1="375.31" x2="432.19" y2="375.31" stroke="#000" stroke-width="1.35" />
<line x1="427.79" y1="382.33" x2="432.19" y2="382.33" stroke="#000" stroke-width="1.35" />
<rect x="426.39" y="376.82" width="7.20" height="4.51" fill="#000" stroke="#000" stroke-width="1.35"/>
<line x1="426.39" y1="379.32" x2="433.59" y2="379.32" stroke="#000" stroke-width="2.3" />
<line x1="438.86" y1="410.00" x2="438.86" y2="413.00" stroke="#000" stroke-width="1" />
<text x="0.00" y="0.00" font-size="7.9" font-weight="normal" text-anchor="end" fill="#000" transform="translate(441.26,414) rotate(-90)" stroke="#000" stroke-width="0.2">vβ 14</text>
<line x1="438.86" y1="376.82" x2="438.86" y2="372.81" stroke="#000" stroke-width="1.35" />
<line x1="438.86" y1="384.34" x2="438.86" y2="386.35" stroke="#000" stroke-width="1.35" />
<line x1="436.66" y1="372.81" x2="441.06" y2="372.81" stroke="#000" stroke-width="1.35" />
<line x1="436.66" y1="386.35" x2="441.06" y2="386.35" stroke="#000" stroke-width="1.35" />
<rect x="435.26" y="376.82" width="7.20" height="7.52" fill="#fff" stroke="#000" stroke-width="1.35"/>
<line x1="435.26" y1="382.84" x2="442.46" y2="382.84" stroke="#000" stroke-width="2.3" />
<line x1="447.72" y1="410.00" x2="447.72" y2="413.00" stroke="#000" stroke-width="1" />
<text x="0.00" y="0.00" font-size="7.9" font-weight="normal" text-anchor="end" fill="#000" transform="translate(450.12,414) rotate(-90)" stroke="#000" stroke-width="0.2">vβ 16</text>
<line x1="447.72" y1="396.38" x2="447.72" y2="396.38" stroke="#000" stroke-width="1.35" />
<line x1="447.72" y1="399.38" x2="447.72" y2="399.38" stroke="#000" stroke-width="1.35" />
<line x1="445.52" y1="396.38" x2="449.92" y2="396.38" stroke="#000" stroke-width="1.35" />
<line x1="445.52" y1="399.38" x2="449.92" y2="399.38" stroke="#000" stroke-width="1.35" />
<rect x="444.12" y="396.38" width="7.20" height="3.01" fill="#000" stroke="#000" stroke-width="1.35"/>
<line x1="444.12" y1="397.88" x2="451.32" y2="397.88" stroke="#000" stroke-width="2.3" />
<line x1="456.59" y1="410.00" x2="456.59" y2="413.00" stroke="#000" stroke-width="1" />
<text x="0.00" y="0.00" font-size="7.9" font-weight="normal" text-anchor="end" fill="#000" transform="translate(458.99,414) rotate(-90)" stroke="#000" stroke-width="0.2">vβ 17</text>
<line x1="456.59" y1="364.28" x2="456.59" y2="359.26" stroke="#000" stroke-width="1.35" />
<line x1="456.59" y1="371.80" x2="456.59" y2="378.82" stroke="#000" stroke-width="1.35" />
<line x1="454.39" y1="359.26" x2="458.79" y2="359.26" stroke="#000" stroke-width="1.35" />
<line x1="454.39" y1="378.82" x2="458.79" y2="378.82" stroke="#000" stroke-width="1.35" />
<rect x="452.99" y="364.28" width="7.20" height="7.52" fill="#fff" stroke="#000" stroke-width="1.35"/>
<line x1="452.99" y1="367.79" x2="460.19" y2="367.79" stroke="#000" stroke-width="2.3" />
<line x1="465.45" y1="410.00" x2="465.45" y2="413.00" stroke="#000" stroke-width="1" />
<text x="0.00" y="0.00" font-size="7.9" font-weight="normal" text-anchor="end" fill="#000" transform="translate(467.85,414) rotate(-90)" stroke="#000" stroke-width="0.2">vβ 18</text>
<line x1="465.45" y1="391.86" x2="465.45" y2="390.86" stroke="#000" stroke-width="1.35" />
<line x1="465.45" y1="395.37" x2="465.45" y2="397.38" stroke="#000" stroke-width="1.35" />
<line x1="463.25" y1="390.86" x2="467.65" y2="390.86" stroke="#000" stroke-width="1.35" />
<line x1="463.25" y1="397.38" x2="467.65" y2="397.38" stroke="#000" stroke-width="1.35" />
<rect x="461.85" y="391.86" width="7.20" height="3.51" fill="#000" stroke="#000" stroke-width="1.35"/>
<line x1="461.85" y1="393.87" x2="469.05" y2="393.87" stroke="#000" stroke-width="2.3" />
<line x1="474.32" y1="410.00" x2="474.32" y2="413.00" stroke="#000" stroke-width="1" />
<text x="0.00" y="0.00" font-size="7.9" font-weight="normal" text-anchor="end" fill="#000" transform="translate(476.72,414) rotate(-90)" stroke="#000" stroke-width="0.2">vβ 20</text>
<line x1="474.32" y1="376.32" x2="474.32" y2="368.79" stroke="#000" stroke-width="1.35" />
<line x1="474.32" y1="387.35" x2="474.32" y2="392.36" stroke="#000" stroke-width="1.35" />
<line x1="472.12" y1="368.79" x2="476.52" y2="368.79" stroke="#000" stroke-width="1.35" />
<line x1="472.12" y1="392.36" x2="476.52" y2="392.36" stroke="#000" stroke-width="1.35" />
<rect x="470.72" y="376.32" width="7.20" height="11.03" fill="#fff" stroke="#000" stroke-width="1.35"/>
<line x1="470.72" y1="379.32" x2="477.92" y2="379.32" stroke="#000" stroke-width="2.3" />
<circle cx="474.32" cy="357.26" r="1.5" fill="#000"/>
<line x1="483.19" y1="410.00" x2="483.19" y2="413.00" stroke="#000" stroke-width="1" />
<text x="0.00" y="0.00" font-size="7.9" font-weight="normal" text-anchor="end" fill="#000" transform="translate(485.59,414) rotate(-90)" stroke="#000" stroke-width="0.2">vβ 21.3</text>
<line x1="483.19" y1="382.84" x2="483.19" y2="380.33" stroke="#000" stroke-width="1.35" />
<line x1="483.19" y1="386.85" x2="483.19" y2="386.85" stroke="#000" stroke-width="1.35" />
<line x1="480.99" y1="380.33" x2="485.39" y2="380.33" stroke="#000" stroke-width="1.35" />
<line x1="480.99" y1="386.85" x2="485.39" y2="386.85" stroke="#000" stroke-width="1.35" />
<rect x="479.59" y="382.84" width="7.20" height="4.01" fill="#000" stroke="#000" stroke-width="1.35"/>
<line x1="479.59" y1="384.84" x2="486.79" y2="384.84" stroke="#000" stroke-width="2.3" />
<line x1="492.05" y1="410.00" x2="492.05" y2="413.00" stroke="#000" stroke-width="1" />
<text x="0.00" y="0.00" font-size="7.9" font-weight="normal" text-anchor="end" fill="#000" transform="translate(494.45,414) rotate(-90)" stroke="#000" stroke-width="0.2">vβ 22</text>
<line x1="492.05" y1="363.78" x2="492.05" y2="356.76" stroke="#000" stroke-width="1.35" />
<line x1="492.05" y1="372.81" x2="492.05" y2="379.32" stroke="#000" stroke-width="1.35" />
<line x1="489.85" y1="356.76" x2="494.25" y2="356.76" stroke="#000" stroke-width="1.35" />
<line x1="489.85" y1="379.32" x2="494.25" y2="379.32" stroke="#000" stroke-width="1.35" />
<rect x="488.45" y="363.78" width="7.20" height="9.03" fill="#fff" stroke="#000" stroke-width="1.35"/>
<line x1="488.45" y1="366.79" x2="495.65" y2="366.79" stroke="#000" stroke-width="2.3" />
<line x1="500.92" y1="410.00" x2="500.92" y2="413.00" stroke="#000" stroke-width="1" />
<text x="0.00" y="0.00" font-size="7.9" font-weight="normal" text-anchor="end" fill="#000" transform="translate(503.32,414) rotate(-90)" stroke="#000" stroke-width="0.2">vβ 23</text>
<line x1="500.92" y1="398.88" x2="500.92" y2="398.88" stroke="#000" stroke-width="1.35" />
<line x1="500.92" y1="401.39" x2="500.92" y2="401.39" stroke="#000" stroke-width="1.35" />
<line x1="498.72" y1="398.88" x2="503.12" y2="398.88" stroke="#000" stroke-width="1.35" />
<line x1="498.72" y1="401.39" x2="503.12" y2="401.39" stroke="#000" stroke-width="1.35" />
<rect x="497.32" y="398.88" width="7.20" height="2.51" fill="#000" stroke="#000" stroke-width="1.35"/>
<line x1="497.32" y1="400.19" x2="504.52" y2="400.19" stroke="#000" stroke-width="2.3" />
<circle cx="500.92" cy="394.87" r="1.5" fill="#000"/>
<text x="260.00" y="453.50" font-size="16.5" font-weight="bold" text-anchor="start" fill="#000" stroke="#000" stroke-width="0.4">F</text>
<text x="289.50" y="453.00" font-size="13.6" font-weight="bold" text-anchor="start" fill="#000" stroke="#000" stroke-width="0.35">Proportion of product-derived</text>
<text x="274.30" y="469.60" font-size="13.6" font-weight="bold" text-anchor="start" fill="#000" stroke="#000" stroke-width="0.35" textLength="210.3">circulating CD4<tspan dy="-4.4" font-size="7.4" stroke-width="0.3">+</tspan><tspan dy="4.4">FoxP3</tspan><tspan dy="-4.4" font-size="7.4" stroke-width="0.3">+</tspan><tspan dy="4.4">CD127</tspan><tspan dy="-3.7" font-size="8.3" stroke-width="0.3">low</tspan></text>
<text x="274.30" y="485.80" font-size="13.6" font-weight="bold" text-anchor="start" fill="#000" stroke="#000" stroke-width="0.35">cells</text>
<line x1="300.50" y1="647.00" x2="502.00" y2="647.00" stroke="#909090" stroke-width="1" />
<text x="294.00" y="650.10" font-size="8.5" font-weight="bold" text-anchor="end" fill="#000" stroke="#000" stroke-width="0.25">0%</text>
<line x1="300.50" y1="630.45" x2="502.00" y2="630.45" stroke="#909090" stroke-width="1" />
<text x="294.00" y="633.55" font-size="8.5" font-weight="bold" text-anchor="end" fill="#000" stroke="#000" stroke-width="0.25">10%</text>
<line x1="300.50" y1="613.90" x2="502.00" y2="613.90" stroke="#909090" stroke-width="1" />
<text x="294.00" y="617.00" font-size="8.5" font-weight="bold" text-anchor="end" fill="#000" stroke="#000" stroke-width="0.25">20%</text>
<line x1="300.50" y1="597.35" x2="502.00" y2="597.35" stroke="#909090" stroke-width="1" />
<text x="294.00" y="600.45" font-size="8.5" font-weight="bold" text-anchor="end" fill="#000" stroke="#000" stroke-width="0.25">30%</text>
<line x1="300.50" y1="580.80" x2="502.00" y2="580.80" stroke="#909090" stroke-width="1" />
<text x="294.00" y="583.90" font-size="8.5" font-weight="bold" text-anchor="end" fill="#000" stroke="#000" stroke-width="0.25">40%</text>
<line x1="300.50" y1="564.25" x2="502.00" y2="564.25" stroke="#909090" stroke-width="1" />
<text x="294.00" y="567.35" font-size="8.5" font-weight="bold" text-anchor="end" fill="#000" stroke="#000" stroke-width="0.25">50%</text>
<line x1="300.50" y1="547.70" x2="502.00" y2="547.70" stroke="#909090" stroke-width="1" />
<text x="294.00" y="550.80" font-size="8.5" font-weight="bold" text-anchor="end" fill="#000" stroke="#000" stroke-width="0.25">60%</text>
<line x1="300.50" y1="531.15" x2="502.00" y2="531.15" stroke="#909090" stroke-width="1" />
<text x="294.00" y="534.25" font-size="8.5" font-weight="bold" text-anchor="end" fill="#000" stroke="#000" stroke-width="0.25">70%</text>
<line x1="300.50" y1="514.60" x2="502.00" y2="514.60" stroke="#909090" stroke-width="1" />
<text x="294.00" y="517.70" font-size="8.5" font-weight="bold" text-anchor="end" fill="#000" stroke="#000" stroke-width="0.25">80%</text>
<line x1="300.50" y1="498.05" x2="502.00" y2="498.05" stroke="#909090" stroke-width="1" />
<text x="294.00" y="501.15" font-size="8.5" font-weight="bold" text-anchor="end" fill="#000" stroke="#000" stroke-width="0.25">90%</text>
<line x1="303.00" y1="498.05" x2="303.00" y2="650.00" stroke="#909090" stroke-width="1" />
<line x1="303.00" y1="647.00" x2="303.00" y2="650.00" stroke="#909090" stroke-width="1" />
<line x1="336.17" y1="647.00" x2="336.17" y2="650.00" stroke="#909090" stroke-width="1" />
<line x1="369.33" y1="647.00" x2="369.33" y2="650.00" stroke="#909090" stroke-width="1" />
<line x1="402.50" y1="647.00" x2="402.50" y2="650.00" stroke="#909090" stroke-width="1" />
<line x1="435.67" y1="647.00" x2="435.67" y2="650.00" stroke="#909090" stroke-width="1" />
<line x1="468.83" y1="647.00" x2="468.83" y2="650.00" stroke="#909090" stroke-width="1" />
<line x1="502.00" y1="647.00" x2="502.00" y2="650.00" stroke="#909090" stroke-width="1" />
<text x="319.88" y="660.50" font-size="7.7" font-weight="bold" text-anchor="middle" fill="#000" stroke="#000" stroke-width="0.25">pre</text>
<text x="353.05" y="660.50" font-size="7.7" font-weight="bold" text-anchor="middle" fill="#000" stroke="#000" stroke-width="0.25">1 day</text>
<text x="386.22" y="660.50" font-size="7.7" font-weight="bold" text-anchor="middle" fill="#000" stroke="#000" stroke-width="0.25">3 days</text>
<text x="419.38" y="660.50" font-size="7.7" font-weight="bold" text-anchor="middle" fill="#000" stroke="#000" stroke-width="0.25">7 days</text>
<text x="452.55" y="660.50" font-size="7.7" font-weight="bold" text-anchor="middle" fill="#000" stroke="#000" stroke-width="0.25">14 days</text>
<text x="485.72" y="660.50" font-size="7.7" font-weight="bold" text-anchor="middle" fill="#000" stroke="#000" stroke-width="0.25">28 days</text>
<polyline points="319.58,647.00 352.75,520.06 385.92,514.93 419.08,566.73 452.25,647.00" fill="none" stroke="#a8a8a8" stroke-width="2.5" stroke-linejoin="round"/>
<polyline points="319.58,647.00 352.75,568.39 385.92,552.17 419.08,618.87 452.25,647.00" fill="none" stroke="#a8a8a8" stroke-width="2.5" stroke-linejoin="round"/>
<polyline points="319.58,647.00 352.75,594.54 385.92,589.90 419.08,634.59 452.25,647.00" fill="none" stroke="#a8a8a8" stroke-width="2.5" stroke-linejoin="round"/>
<polyline points="319.58,647.00 352.75,600.33 385.92,606.95 419.08,628.79 452.25,647.00" fill="none" stroke="#a8a8a8" stroke-width="2.5" stroke-linejoin="round"/>
<polyline points="319.58,647.00 352.75,637.57 385.92,630.78 419.08,639.55 452.25,647.00" fill="none" stroke="#a8a8a8" stroke-width="2.5" stroke-linejoin="round"/>
<polyline points="319.58,647.00 352.75,639.22 385.92,642.53 419.08,645.01 452.25,647.00" fill="none" stroke="#a8a8a8" stroke-width="2.5" stroke-linejoin="round"/>
<polyline points="319.58,647.00 352.75,600.99 385.92,598.01 419.08,626.31 452.25,647.00 485.42,647.00" fill="none" stroke="#000" stroke-width="3.2" stroke-linejoin="round"/>
</svg>
</body></html>
